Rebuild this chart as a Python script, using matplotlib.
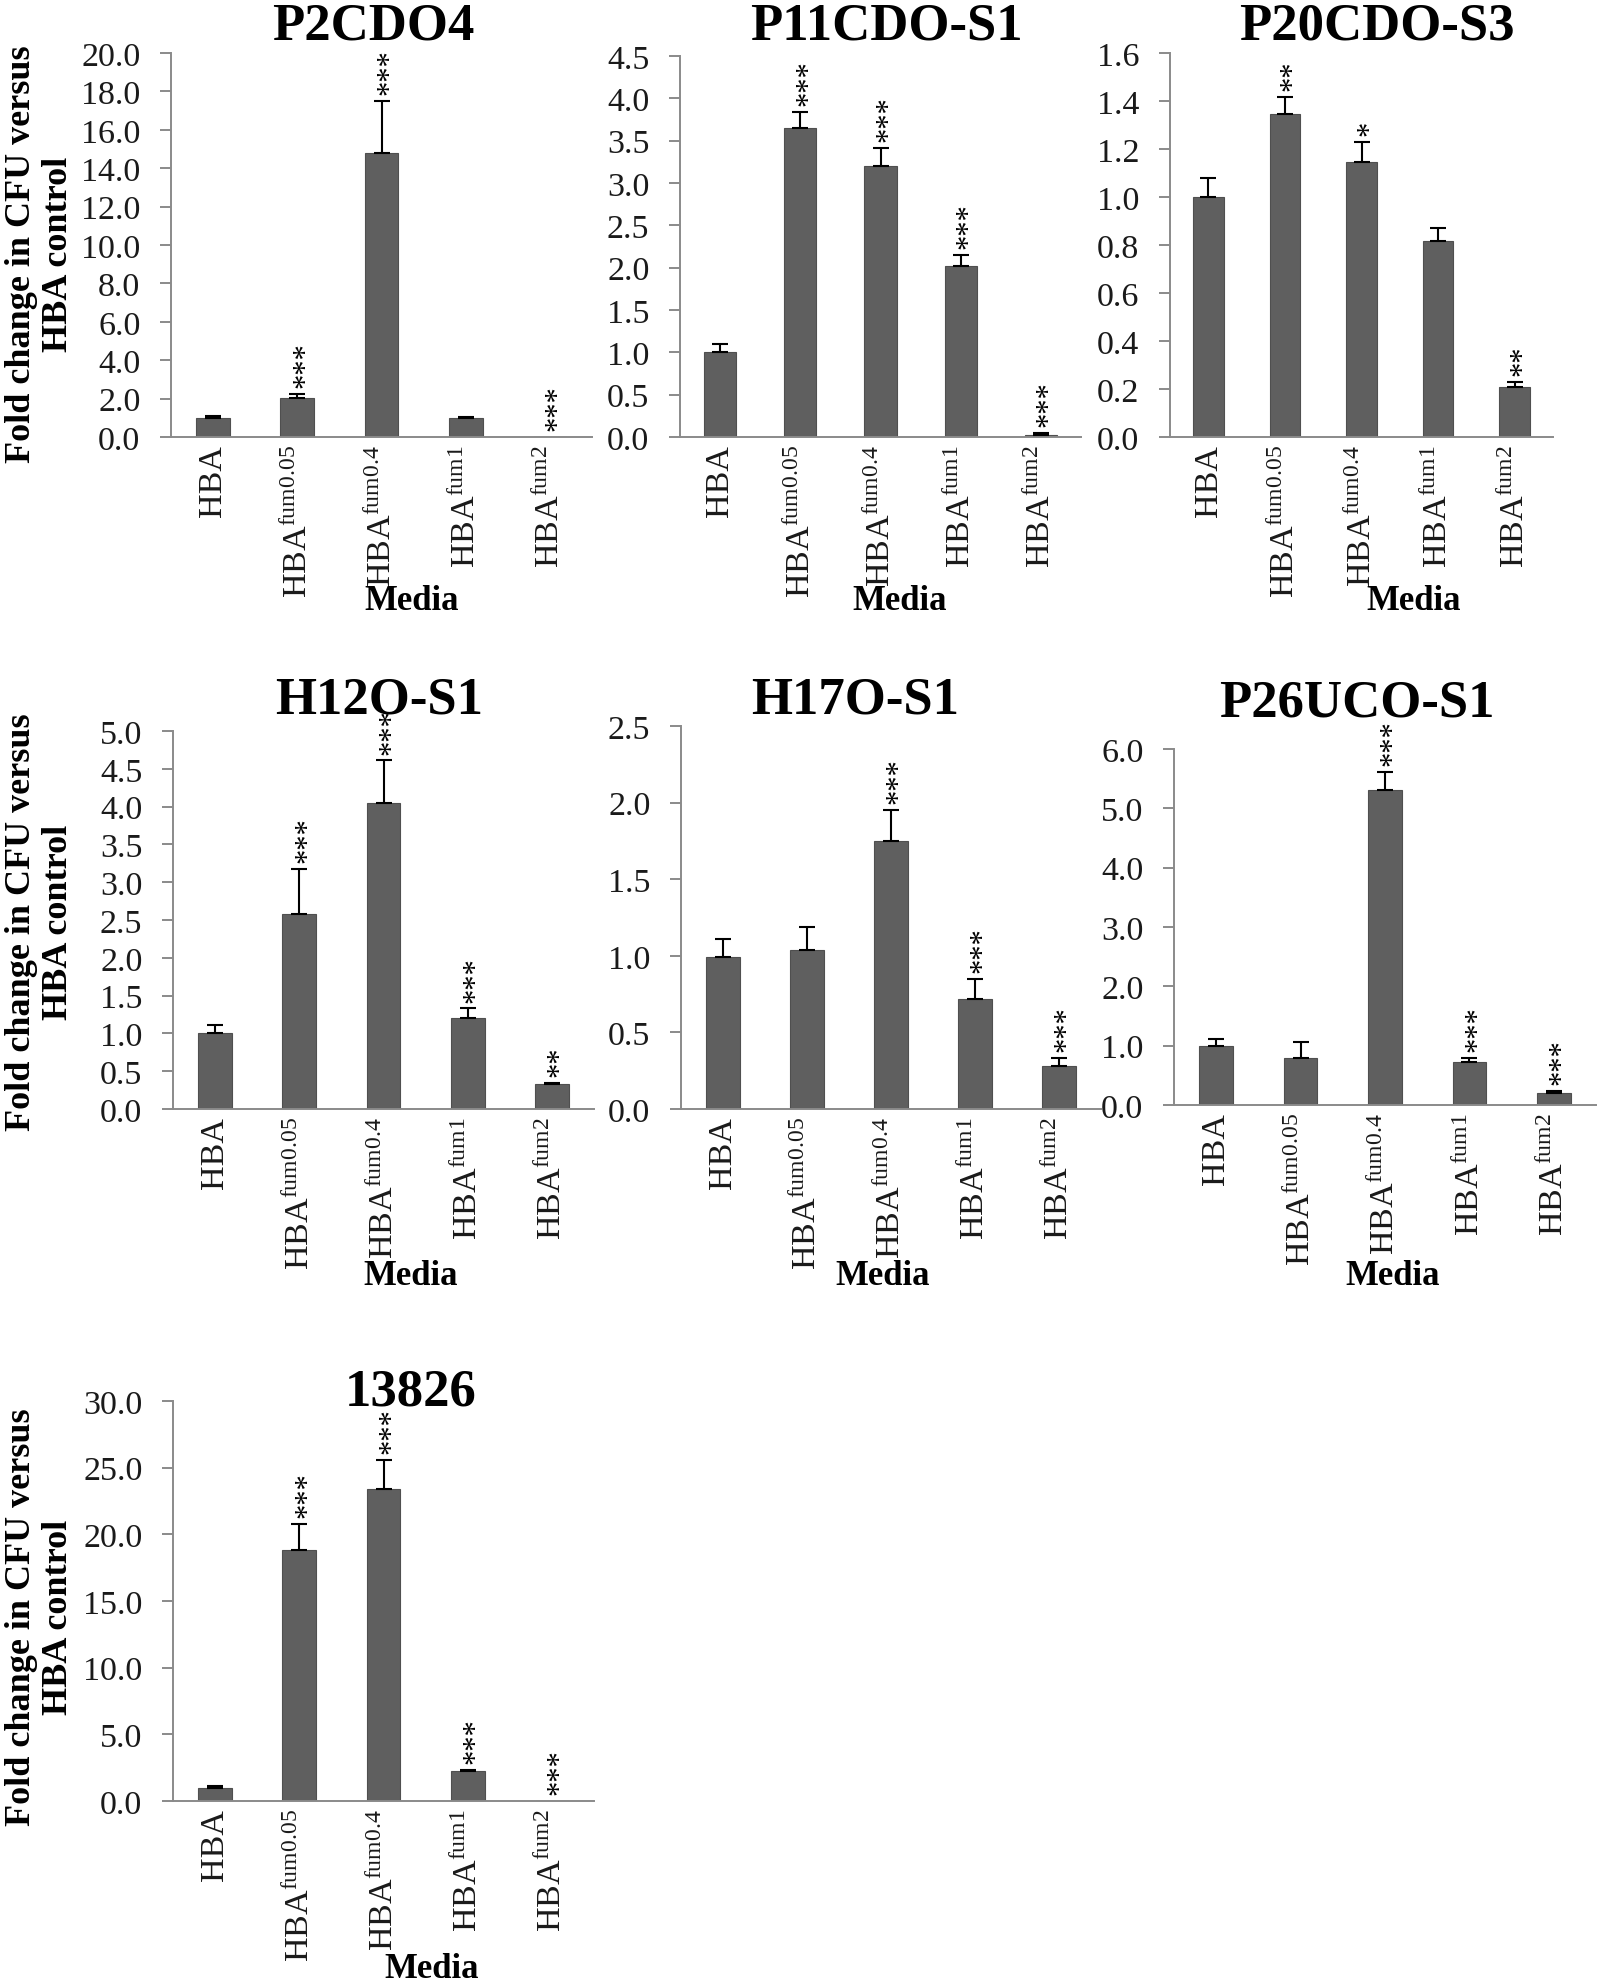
import numpy as np
import matplotlib
matplotlib.use("Agg")
import matplotlib.pyplot as plt
from matplotlib.ticker import MultipleLocator, FormatStrFormatter

plt.rcParams['font.family'] = ['Liberation Serif', 'DejaVu Serif']
plt.rcParams['mathtext.fontset'] = 'custom'
plt.rcParams['mathtext.rm'] = 'Liberation Serif'
plt.rcParams['mathtext.it'] = 'Liberation Serif:italic'
plt.rcParams['mathtext.bf'] = 'Liberation Serif:bold'

## data
media = ['HBA', 'fum0.05', 'fum0.4', 'fum1', 'fum2']
titles = ['P2CDO4', 'P11CDO-S1', 'P20CDO-S3', 'H12O-S1', 'H17O-S1', 'P26UCO-S1', '13826']

p2cdo4_mean = [1.0, 2.02, 14.8, 0.98, 0.0]
p2cdo4_err = [0.08, 0.2, 2.7, 0.08, 0.0]
p2cdo4_sig = ['', '***', '***', '', '***']

p11cdo_mean = [1.0, 3.65, 3.20, 2.02, 0.025]
p11cdo_err = [0.1, 0.19, 0.21, 0.13, 0.02]
p11cdo_sig = ['', '***', '***', '***', '***']

p20cdo_mean = [1.0, 1.345, 1.147, 0.815, 0.208]
p20cdo_err = [0.08, 0.073, 0.083, 0.055, 0.02]
p20cdo_sig = ['', '**', '*', '', '**']

h12o_mean = [1.0, 2.58, 4.05, 1.20, 0.33]
h12o_err = [0.11, 0.59, 0.56, 0.13, 0.015]
h12o_sig = ['', '***', '***', '***', '**']

h17o_mean = [0.99, 1.04, 1.75, 0.72, 0.28]
h17o_err = [0.12, 0.145, 0.2, 0.13, 0.056]
h17o_sig = ['', '', '***', '***', '***']

p26uco_mean = [1.0, 0.80, 5.31, 0.73, 0.197]
p26uco_err = [0.11, 0.26, 0.31, 0.06, 0.035]
p26uco_sig = ['', '', '***', '***', '***']

s13826_mean = [1.0, 18.8, 23.4, 2.22, 0.0]
s13826_err = [0.1, 2.0, 2.2, 0.13, 0.0]
s13826_sig = ['', '***', '***', '***', '***']

means = [p2cdo4_mean, p11cdo_mean, p20cdo_mean, h12o_mean, h17o_mean, p26uco_mean, s13826_mean]
errs = [p2cdo4_err, p11cdo_err, p20cdo_err, h12o_err, h17o_err, p26uco_err, s13826_err]
sigs = [p2cdo4_sig, p11cdo_sig, p20cdo_sig, h12o_sig, h17o_sig, p26uco_sig, s13826_sig]
ymax = [20, 4.5, 1.6, 5, 2.5, 6, 30]
ystep = [2, 0.5, 0.2, 0.5, 0.5, 1, 5]

## layout, in pixels of the 1601x1983 picture
W, H = 1601, 1983
boxes = [(171, 592, 54, 438), (680, 1081, 57, 438), (1170, 1553, 54, 438),
         (173, 594, 732, 1110), (681, 1101, 727, 1110), (1174, 1596, 750, 1106),
         (173, 594, 1402, 1802)]
title_xy = [(373, 40), (886, 40), (1377, 40), (379, 714), (855, 714), (1357, 717), (411, 1405)]
media_xy = [(412, 610), (900, 610), (1414, 610), (411, 1285), (883, 1285), (1393, 1285), (432, 1978)]
ylabel_y = {0: 254, 3: 922, 6: 1617}

axis_col = '#8a8a8a'
bar_col = '#5f5f5f'

labels = []
for m in media:
    if m == 'HBA':
        labels.append('HBA')
    else:
        labels.append('HBA$^{\\mathrm{' + m + '}}$')

fig = plt.figure(figsize=(W / 100, H / 100), dpi=100)

for i in range(len(titles)):
    l, r, t, b = boxes[i]
    ax = fig.add_axes([l / W, 1 - b / H, (r - l) / W, (b - t) / H])
    x = np.arange(len(media))
    mean = np.array(means[i])
    err = np.array(errs[i])

    ax.bar(x, mean, width=0.4, color=bar_col, edgecolor='#4f4f4f', linewidth=0.8, zorder=2)
    keep = mean > 0
    ax.errorbar(x[keep], mean[keep], yerr=[np.zeros(keep.sum()), err[keep]],
                fmt='none', ecolor='black', elinewidth=1.5, capsize=5.5, capthick=1.5, zorder=3)
    for j in range(len(media)):
        if sigs[i][j]:
            ax.annotate(sigs[i][j], (x[j], mean[j] + err[j]), xytext=(6, 5),
                        textcoords='offset points', rotation=90, ha='center', va='bottom',
                        fontsize=22, color='black', zorder=4, annotation_clip=False)

    ax.set_xlim(-0.5, len(media) - 0.5)
    ax.set_ylim(0, ymax[i])
    ax.yaxis.set_major_locator(MultipleLocator(ystep[i]))
    ax.yaxis.set_major_formatter(FormatStrFormatter('%.1f'))
    ax.set_xticks(x)
    ax.set_xticklabels(labels, rotation=90)

    for s in ['top', 'right']:
        ax.spines[s].set_visible(False)
    for s in ['left', 'bottom']:
        ax.spines[s].set_color(axis_col)
        ax.spines[s].set_linewidth(1.4)
    ax.tick_params(axis='y', direction='out', length=8, width=1.4, color=axis_col,
                   labelsize=24.5, pad=14, labelcolor='#1a1a1a')
    ax.tick_params(axis='x', length=0, labelsize=24.5, pad=5, labelcolor='#1a1a1a')
    ax.patch.set_alpha(0)

    tx, ty = title_xy[i]
    fig.text(tx / W, 1 - ty / H, titles[i], fontsize=38, fontweight='bold',
             ha='center', va='baseline')
    mx, my = media_xy[i]
    fig.text(mx / W, 1 - my / H, 'Media', fontsize=25, fontweight='bold',
             ha='center', va='baseline')
    if i in ylabel_y:
        fig.text(40 / W, 1 - ylabel_y[i] / H, 'Fold change in CFU versus\nHBA control',
                 fontsize=26, fontweight='bold', rotation=90, ha='center', va='center',
                 multialignment='center', linespacing=1.15)

plt.savefig('out.png', dpi=100, facecolor='white')
